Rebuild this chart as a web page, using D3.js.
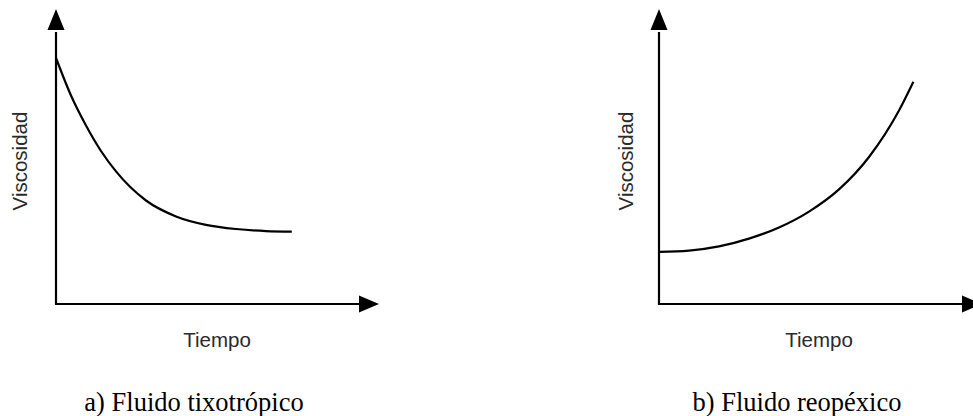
<!DOCTYPE html>
<html>
<head>
<meta charset="utf-8">
<script src="https://cdn.jsdelivr.net/npm/d3@7"></script>
<style>
  body { margin: 0; background: #fff; }
  svg { display: block; }
</style>
</head>
<body>
<script>
var w = 973;
var h = 416;

// tiempo (0-10) vs viscosidad (0-10)
var tiempoA = [0, 0.5, 1, 1.5, 2, 3, 4, 5, 6, 7, 7.86];
var viscA   = [8.2, 6.95, 5.95, 5.1, 4.42, 3.45, 2.92, 2.64, 2.5, 2.43, 2.41];

var tiempoB = [0, 1, 2, 3, 4, 5, 6, 7, 8, 8.48];
var viscB   = [1.74, 1.78, 1.92, 2.18, 2.55, 3.08, 3.82, 4.9, 6.45, 7.41];

var ejeX = "Tiempo";
var ejeY = "Viscosidad";
var titulos = ["a) Fluido tixotrópico", "b) Fluido reopéxico"];

var svg = d3.select("body")
    .append("svg")
    .attr("width", w)
    .attr("height", h);

var panels = [
    {x0: 56,  tiempo: tiempoA, visc: viscA, titulo: titulos[0], titleX: 194, labelX: 217, yLabelX: 27},
    {x0: 659, tiempo: tiempoB, visc: viscB, titulo: titulos[1], titleX: 797, labelX: 819, yLabelX: 633}
];

var y0 = 304;   // x axis position

panels.forEach(function(p) {
    var x = d3.scaleLinear().domain([0, 10]).range([p.x0, p.x0 + 300]);
    var y = d3.scaleLinear().domain([0, 10]).range([y0, y0 - 300]);

    var g = svg.append("g");

    var xEnd = p.x0 + 303;   // where the arrow head starts
    var yEnd = 30;

    // axes
    g.append("line")
        .attr("x1", p.x0).attr("y1", y0 + 1)
        .attr("x2", p.x0).attr("y2", yEnd + 2)
        .attr("stroke", "#000").attr("stroke-width", 2.2);
    g.append("line")
        .attr("x1", p.x0 - 1).attr("y1", y0)
        .attr("x2", xEnd + 2).attr("y2", y0)
        .attr("stroke", "#000").attr("stroke-width", 2.2);

    // arrow heads
    g.append("path")
        .attr("d", "M" + (p.x0 - 8.5) + "," + yEnd + "L" + p.x0 + "," + (yEnd - 21) + "L" + (p.x0 + 8.5) + "," + yEnd + "Z")
        .attr("fill", "#000");
    g.append("path")
        .attr("d", "M" + xEnd + "," + (y0 - 8.5) + "L" + (xEnd + 20) + "," + y0 + "L" + xEnd + "," + (y0 + 8.5) + "Z")
        .attr("fill", "#000");

    // curve
    var pts = p.tiempo.map(function(t, i) { return [t, p.visc[i]]; });
    var line = d3.line()
        .x(function(d) { return x(d[0]); })
        .y(function(d) { return y(d[1]); })
        .curve(d3.curveMonotoneX);
    g.append("path")
        .datum(pts)
        .attr("d", line)
        .attr("fill", "none")
        .attr("stroke", "#000")
        .attr("stroke-width", 2.2)
        .attr("stroke-linecap", "butt");

    // labels
    g.append("text")
        .attr("x", p.labelX).attr("y", 346.5)
        .attr("text-anchor", "middle")
        .attr("font-family", "Liberation Sans, Arial, sans-serif")
        .attr("font-size", 20.5)
        .attr("fill", "#2a2a2a")
        .text(ejeX);

    g.append("text")
        .attr("transform", "translate(" + p.yLabelX + ",161) rotate(-90)")
        .attr("text-anchor", "middle")
        .attr("font-family", "Liberation Sans, Arial, sans-serif")
        .attr("font-size", 20.5)
        .attr("fill", "#2a2a2a")
        .text(ejeY);

    g.append("text")
        .attr("x", p.titleX).attr("y", 410.5)
        .attr("text-anchor", "middle")
        .attr("font-family", "Liberation Serif, Times New Roman, serif")
        .attr("font-size", 26.5)
        .attr("fill", "#000")
        .text(p.titulo);
});
</script>
</body>
</html>
